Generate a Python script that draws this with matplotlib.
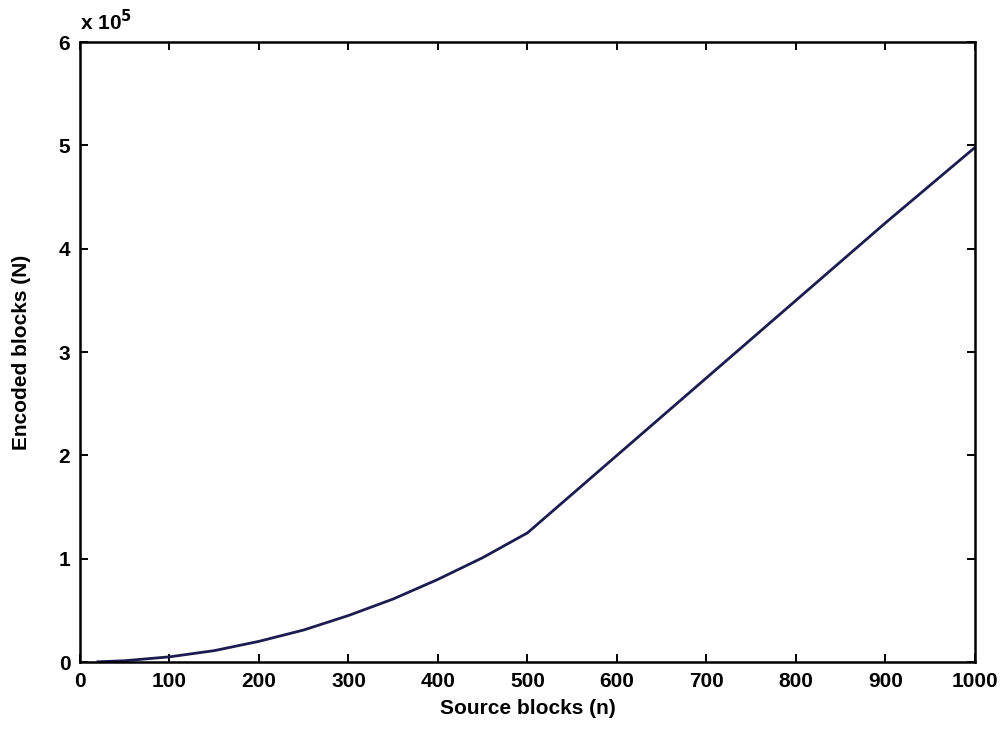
import matplotlib.pyplot as plt

# values
source_blocks = [20, 50, 100, 150, 200, 250, 300, 350, 400, 450, 500,
                 600, 700, 800, 900, 1000]
encoded_blocks = [200, 1250, 5000, 11000, 20000, 31000, 45000, 61000, 80000,
                  101000, 125000, 200000, 275000, 350000, 425000, 498000]

x_ticks = [0, 100, 200, 300, 400, 500, 600, 700, 800, 900, 1000]
y_ticks = [0, 100000, 200000, 300000, 400000, 500000, 600000]
y_tick_labels = ['0', '1', '2', '3', '4', '5', '6']

plt.rcParams['font.family'] = ['Liberation Sans', 'DejaVu Sans']
plt.rcParams['font.weight'] = 'bold'

fig = plt.figure(figsize=(10.05, 7.51), dpi=100)
ax = fig.add_axes([0.0796, 0.1185, 0.8905, 0.8255])

ax.plot(source_blocks, encoded_blocks, color='#1c1c50', linewidth=2)

ax.set_xlim(0, 1000)
ax.set_ylim(0, 600000)
ax.set_xticks(x_ticks)
ax.set_yticks(y_ticks)
ax.set_yticklabels(y_tick_labels)

ax.tick_params(direction='in', top=True, right=True, length=6, width=1.4,
               labelsize=15, pad=7)
for s in ax.spines.values():
    s.set_linewidth(1.8)

ax.text(0.0, 1.012, r'x 10$^5$', transform=ax.transAxes, fontsize=15,
        ha='left', va='bottom', fontweight='bold')

ax.set_xlabel('Source blocks (n)', fontsize=15, labelpad=6, fontweight='bold')
ax.set_ylabel('Encoded blocks (N)', fontsize=15, labelpad=20, fontweight='bold')

fig.savefig('out.png', dpi=100)
